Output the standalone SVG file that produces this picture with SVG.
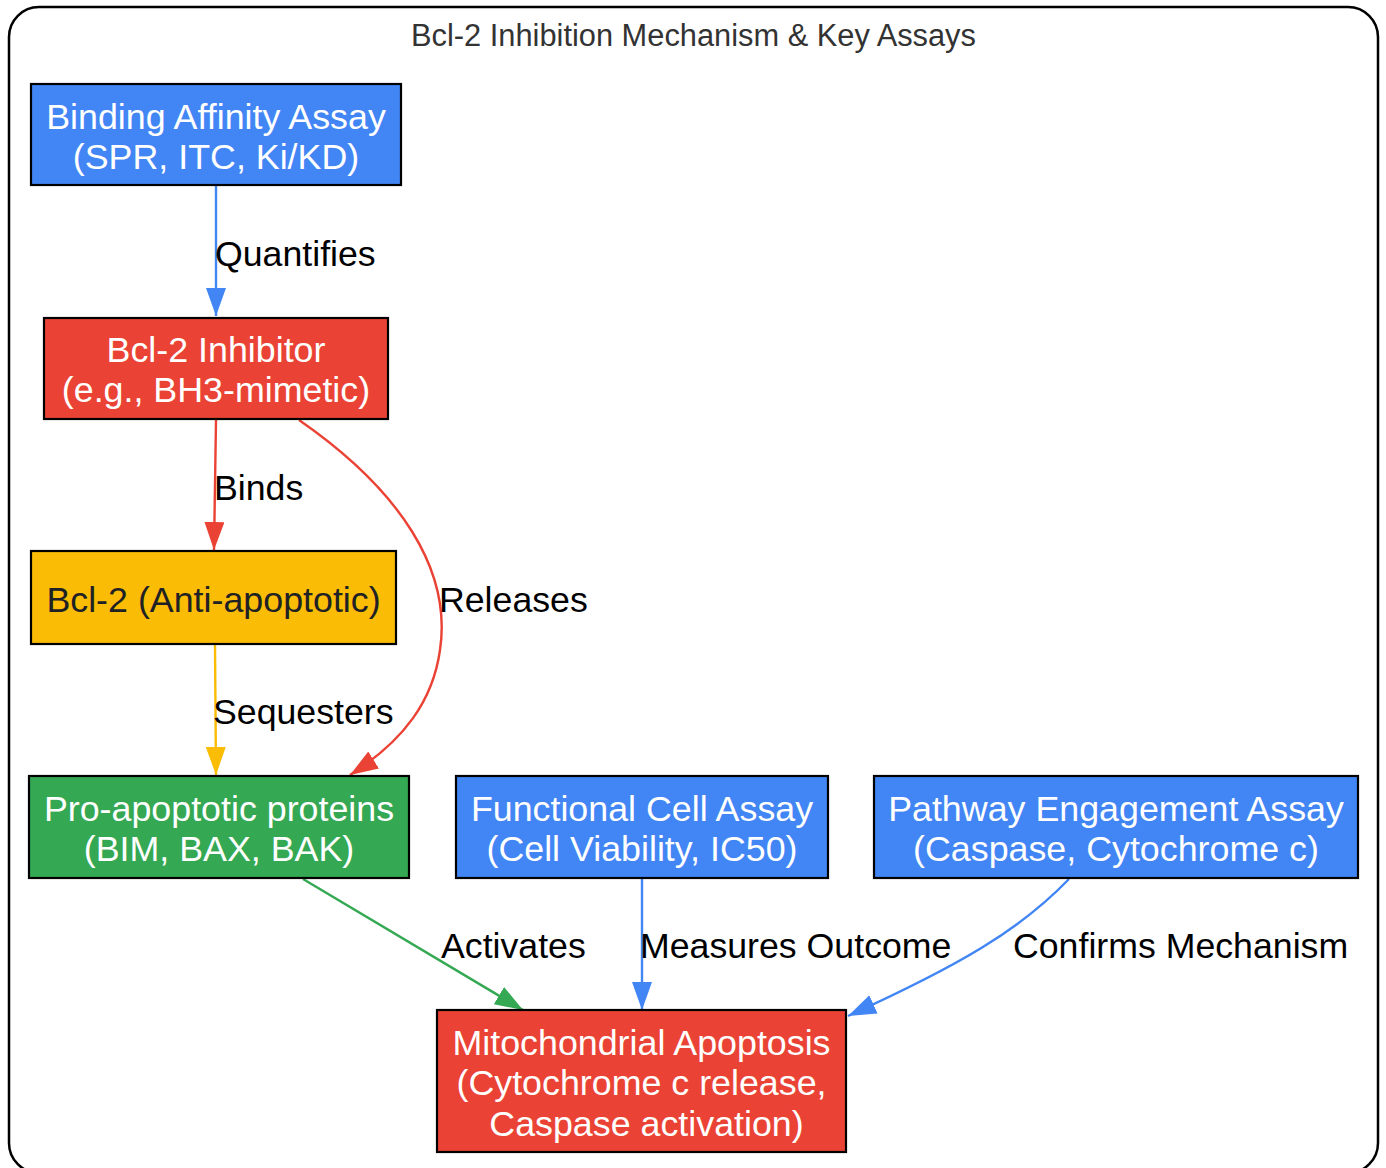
<svg xmlns="http://www.w3.org/2000/svg" width="1386" height="1168" viewBox="0 0 1386 1168">
<style>
.node rect{stroke:#000;stroke-width:2.2}
.nt{font-family:"Liberation Sans",Arial,sans-serif;font-size:35.8px;fill:#fff;text-anchor:middle}
.dark{fill:#202124}
.el{font-family:"Liberation Sans",Arial,sans-serif;font-size:35.7px;fill:#000}
.edge{fill:none;stroke-width:2.4}
.title{font-family:"Liberation Sans",Arial,sans-serif;font-size:30.8px;fill:#333;text-anchor:middle}
</style>
<defs>
<marker id="ab" markerUnits="userSpaceOnUse" markerWidth="30" markerHeight="22" refX="28" refY="10" orient="auto"><path d="M0,0 L28,10 L0,20 z" fill="#4285F4"/></marker>
<marker id="ar" markerUnits="userSpaceOnUse" markerWidth="30" markerHeight="22" refX="28" refY="10" orient="auto"><path d="M0,0 L28,10 L0,20 z" fill="#EA4335"/></marker>
<marker id="ay" markerUnits="userSpaceOnUse" markerWidth="30" markerHeight="22" refX="28" refY="10" orient="auto"><path d="M0,0 L28,10 L0,20 z" fill="#FBBC05"/></marker>
<marker id="ag" markerUnits="userSpaceOnUse" markerWidth="30" markerHeight="22" refX="28" refY="10" orient="auto"><path d="M0,0 L28,10 L0,20 z" fill="#34A853"/></marker>
</defs>
<rect x="0" y="0" width="1386" height="1168" fill="#fff"/>
<rect x="9" y="7" width="1369" height="1166" rx="30" ry="30" fill="#fff" stroke="#000" stroke-width="2.5"/>
<text class="title" x="693.5" y="46">Bcl-2 Inhibition Mechanism &amp; Key Assays</text>

<g id="edges">
<path class="edge" d="M216,186 L216,316" stroke="#4285F4" marker-end="url(#ab)"/>
<path class="edge" d="M216,420 L214,550" stroke="#EA4335" marker-end="url(#ar)"/>
<path class="edge" d="M299,420 C400,490 452,570 440,650 C433,700 405,740 350,775" stroke="#EA4335" marker-end="url(#ar)"/>
<path class="edge" d="M215,645 L216,775" stroke="#FBBC05" marker-end="url(#ay)"/>
<path class="edge" d="M303,879 L523,1010" stroke="#34A853" marker-end="url(#ag)"/>
<path class="edge" d="M642,879 L642,1010" stroke="#4285F4" marker-end="url(#ab)"/>
<path class="edge" d="M1069,879 C1020,930 960,965 848,1016" stroke="#4285F4" marker-end="url(#ab)"/>
<text class="el" x="215" y="266">Quantifies</text>
<text class="el" x="214" y="500">Binds</text>
<text class="el" x="439" y="612">Releases</text>
<text class="el" x="213" y="724">Sequesters</text>
<text class="el" x="441" y="958">Activates</text>
<text class="el" x="640" y="958">Measures Outcome</text>
<text class="el" x="1013" y="958">Confirms Mechanism</text>
</g>

<g id="binding" class="node">
<rect x="31" y="84" width="370" height="101" fill="#4285F4"/>
<text class="nt" x="216" y="129">Binding Affinity Assay</text>
<text class="nt" x="216" y="169">(SPR, ITC, Ki/KD)</text>
</g>
<g id="inhibitor" class="node">
<rect x="44" y="318" width="344" height="101" fill="#EA4335"/>
<text class="nt" x="216" y="362">Bcl-2 Inhibitor</text>
<text class="nt" x="216" y="402">(e.g., BH3-mimetic)</text>
</g>
<g id="bcl2" class="node">
<rect x="31" y="551" width="365" height="93" fill="#FBBC05"/>
<text class="nt dark" x="213.5" y="612">Bcl-2 (Anti-apoptotic)</text>
</g>
<g id="pro" class="node">
<rect x="29" y="776" width="380" height="102" fill="#34A853"/>
<text class="nt" x="219" y="821">Pro-apoptotic proteins</text>
<text class="nt" x="219" y="861">(BIM, BAX, BAK)</text>
</g>
<g id="functional" class="node">
<rect x="456" y="776" width="372" height="102" fill="#4285F4"/>
<text class="nt" x="642" y="821">Functional Cell Assay</text>
<text class="nt" x="642" y="861">(Cell Viability, IC50)</text>
</g>
<g id="pathway" class="node">
<rect x="874" y="776" width="484" height="102" fill="#4285F4"/>
<text class="nt" x="1116" y="821">Pathway Engagement Assay</text>
<text class="nt" x="1116" y="861">(Caspase, Cytochrome c)</text>
</g>
<g id="mito" class="node">
<rect x="437" y="1010" width="409" height="142" fill="#EA4335"/>
<text class="nt" x="641.5" y="1055">Mitochondrial Apoptosis</text>
<text class="nt" x="641.5" y="1095">(Cytochrome c release,</text>
<text class="nt" x="646.5" y="1136">Caspase activation)</text>
</g>
</svg>
